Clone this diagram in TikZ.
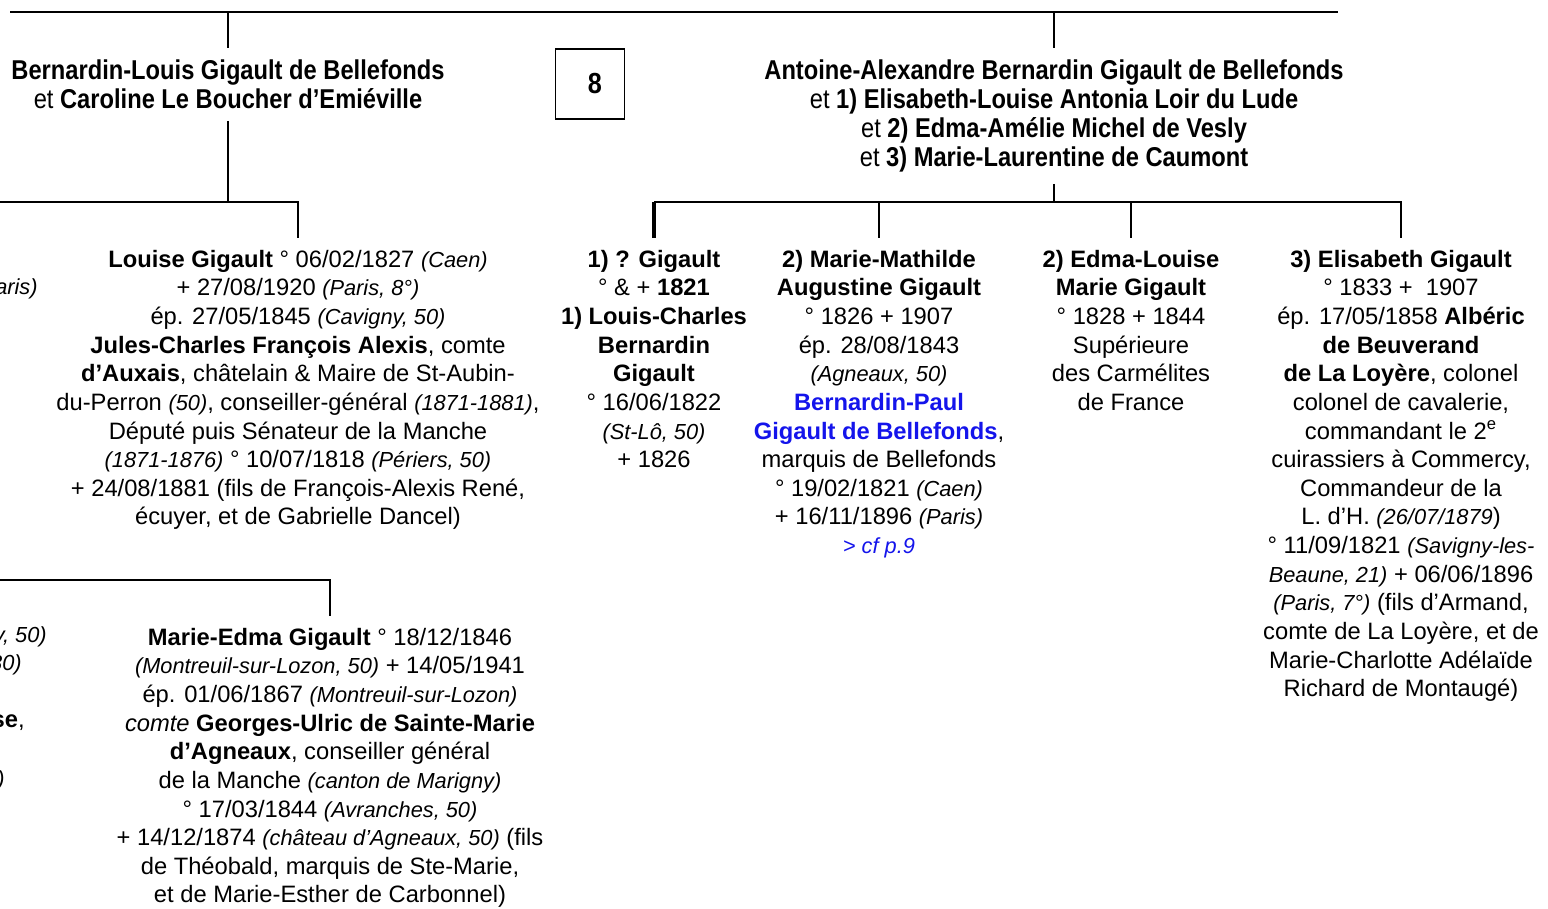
\documentclass[tikz,border=0pt]{standalone}
\usepackage{fontspec}
\setmainfont{Liberation Sans}
\newfontfamily\narrowfont[FakeStretch=0.87]{Liberation Sans}
\usepackage{tikz}
\usepackage{color}
\usetikzlibrary{positioning, calc}
\definecolor{linkblue}{RGB}{20,20,235}
\newcommand{\lieu}[1]{{\fontsize{12.4}{16.3}\selectfont\itshape #1}}
\tikzset{
  person/.style={align=center, inner sep=0, outer sep=0.24cm, anchor=north,
    font=\fontsize{13.5}{16.3}\selectfont},
  header/.style={align=center, inner sep=0, outer sep=0.24cm, anchor=north,
    font=\narrowfont\fontsize{15.5}{16.4}\selectfont},
  pagebox/.style={draw, line width=0.6pt, minimum width=1.38cm, minimum height=1.4cm,
    inner sep=0, font=\narrowfont\bfseries\fontsize{16.5}{18}\selectfont},
  frag/.style={inner sep=0, anchor=east, font=\fontsize{13.5}{16.3}\selectfont},
  bar/.style={line width=1.4pt},
  thickbar/.style={line width=2.3pt}
}

\begin{document}
\begin{tikzpicture}[x=0.02cm, y=-0.02cm]
\useasboundingbox (0,0) rectangle (1548,909);

\coordinate (topL) at (10,12);
\coordinate (topR) at (1338,12);
\coordinate (barL) at (0,202);
\coordinate (barR) at (0,202);
\coordinate (barLL) at (0,580);

% parents
\node [header] (hdrA) at (228,48) {\textbf{Bernardin-Louis Gigault de Bellefonds}\\
  et \textbf{Caroline Le Boucher d’Emiéville}};
\node [header] (hdrB) at (1054,48) {\textbf{Antoine-Alexandre Bernardin Gigault de Bellefonds}\\
  et \textbf{1) Elisabeth-Louise Antonia Loir du Lude}\\
  et \textbf{2) Edma-Amélie Michel de Vesly}\\
  et \textbf{3) Marie-Laurentine de Caumont}};
\node [pagebox] (pageno) at (590,84) {\hspace{0.2cm}8};

% children, left branch
\node [person] (louise) at (298,238) {\textbf{Louise Gigault} ° 06/02/1827 \lieu{(Caen)}\\
  + 27/08/1920 \lieu{(Paris, 8°)}\\
  ép. 27/05/1845 \lieu{(Cavigny, 50)}\\
  \textbf{Jules-Charles François Alexis}, comte\\
  \textbf{d’Auxais}, châtelain \& Maire de St-Aubin-\\
  du-Perron \lieu{(50)}, conseiller-général \lieu{(1871-1881)},\\
  Député puis Sénateur de la Manche\\
  \lieu{(1871-1876)} ° 10/07/1818 \lieu{(Périers, 50)}\\
  + 24/08/1881 (fils de François-Alexis René,\\
  écuyer, et de Gabrielle Dancel)};
\node [person] (edma) at (330,616) {\textbf{Marie-Edma Gigault} ° 18/12/1846\\
  \lieu{(Montreuil-sur-Lozon, 50)} + 14/05/1941\\
  ép. 01/06/1867 \lieu{(Montreuil-sur-Lozon)}\\
  \textit{comte} \textbf{Georges-Ulric de Sainte-Marie}\\
  \textbf{d’Agneaux}, conseiller général\\
  de la Manche \lieu{(canton de Marigny)}\\
  ° 17/03/1844 \lieu{(Avranches, 50)}\\
  + 14/12/1874 \lieu{(château d’Agneaux, 50)} (fils\\
  de Théobald, marquis de Ste-Marie,\\
  et de Marie-Esther de Carbonnel)};

% cut-off column at the left edge
\node [frag] (fragA) at (38,289) {\lieu{aris)}};
\node [frag] (fragB) at (47,637) {\lieu{y, 50)}};
\node [frag] (fragC) at (22,665) {\lieu{80)}};
\node [frag] (fragD) at (25,723) {\textbf{se},};
\node [frag] (fragE) at (5,781) {\lieu{)}};

% children, right branch
\node [person] (childA) at (654,238) {\textbf{1) ? Gigault}\\
  ° \& + \textbf{1821}\\
  \textbf{1) Louis-Charles}\\
  \textbf{Bernardin}\\
  \textbf{Gigault}\\
  ° 16/06/1822\\
  \lieu{(St-Lô, 50)}\\
  + 1826};
\node [person] (childB) at (879,238) {\textbf{2) Marie-Mathilde}\\
  \textbf{Augustine Gigault}\\
  ° 1826 + 1907\\
  ép. 28/08/1843\\
  \lieu{(Agneaux, 50)}\\
  \textcolor{linkblue}{\textbf{Bernardin-Paul}}\\
  \textcolor{linkblue}{\textbf{Gigault de Bellefonds}},\\
  marquis de Bellefonds\\
  ° 19/02/1821 \lieu{(Caen)}\\
  + 16/11/1896 \lieu{(Paris)}\\
  \textcolor{linkblue}{\lieu{> cf p.9}}};
\node [person] (childC) at (1131,238) {\textbf{2) Edma-Louise}\\
  \textbf{Marie Gigault}\\
  ° 1828 + 1844\\
  Supérieure\\
  des Carmélites\\
  de France};
\node [person] (childD) at (1401,238) {\textbf{3) Elisabeth Gigault}\\
  ° 1833 + \ 1907\\
  ép. 17/05/1858 \textbf{Albéric}\\
  \textbf{de Beuverand}\\
  \textbf{de La Loyère}, colonel\\
  colonel de cavalerie,\\
  commandant le 2\textsuperscript{e}\\
  cuirassiers à Commercy,\\
  Commandeur de la\\
  L. d’H. \lieu{(26/07/1879}) \\
  ° 11/09/1821 \lieu{(Savigny-les-}\\
  \lieu{Beaune, 21)} + 06/06/1896\\
  \lieu{(Paris, 7°)} (fils d’Armand,\\
  comte de La Loyère, et de\\
  Marie-Charlotte Adélaïde\\
  Richard de Montaugé)};

% lines
\draw [bar] (topL) -- (topR);
\draw [bar] (hdrA.north |- topL) -- (hdrA.north);
\draw [bar] (hdrB.north |- topL) -- (hdrB.north);
\draw [bar] (hdrA.south) -- (hdrA.south |- barL);
\draw [bar] (barL) -| (louise.north);
\draw [bar] (barLL) -| (edma.north);
\draw [bar] (hdrB.south) -- (hdrB.south |- barR);
\draw [bar] (barR -| childA.north) -| (childD.north);
\foreach \kid in {childB, childC}
  \draw [bar] (\kid.north |- barR) -- (\kid.north);
\draw [thickbar] (childA.north |- barR) -- (childA.north);
\end{tikzpicture}
\end{document}
